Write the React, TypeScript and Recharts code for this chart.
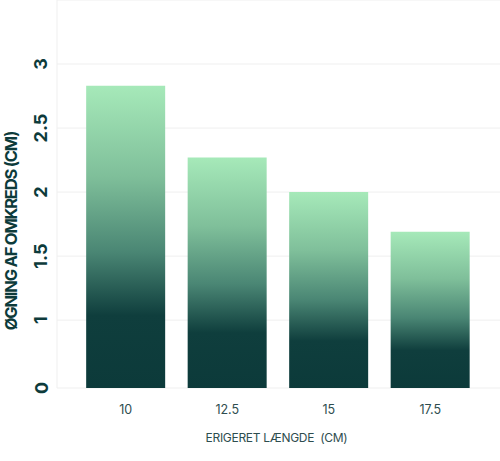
import { BarChart, Bar, XAxis, YAxis, CartesianGrid, Label } from "recharts";

const lengths = ["10", "12.5", "15", "17.5"];
const girthGain = [2.83, 2.27, 2.0, 1.69];
const yTicks = [0.47, 1, 1.5, 2, 2.5, 3];

const data = lengths.map((l, i) => ({ length: l, gain: girthGain[i] }));

const dark = "#0d3b3b";
const font = "Inter, 'Noto Sans', sans-serif";

const YTick = (props: any) => {
  const { y, payload } = props;
  const label = payload.value < 0.9 ? "0" : String(payload.value);
  return (
    <text
      x={41}
      y={y}
      transform={`rotate(-90 41 ${y})`}
      textAnchor="middle"
      dominantBaseline="central"
      fill={dark}
      fontFamily={font}
      fontWeight={700}
      fontSize={18}
    >
      {label}
    </text>
  );
};

const XTick = (props: any) => {
  const { x, y, payload } = props;
  return (
    <text
      x={x}
      y={y + 13}
      textAnchor="middle"
      dominantBaseline="central"
      fill="#2e4d4f"
      fontFamily={font}
      fontSize={12.5}
    >
      {payload.value}
    </text>
  );
};

export default function App() {
  return (
    <div style={{ position: "absolute", left: 0, top: 0, background: "#fff" }}>
      <BarChart
        width={500}
        height={461}
        data={data}
        margin={{ top: 0, right: 0, bottom: 43, left: 0 }}
        barCategoryGap="11%"
      >
        <defs>
          <linearGradient id="barGrad" x1="0" y1="0" x2="0" y2="1">
            <stop offset="0%" stopColor="#a6e9b9" />
            <stop offset="30%" stopColor="#7fbf9a" />
            <stop offset="55%" stopColor="#4a8674" />
            <stop offset="76%" stopColor="#0f3e3d" />
            <stop offset="100%" stopColor="#0c3a3a" />
          </linearGradient>
        </defs>
        <CartesianGrid vertical={false} stroke="#efefef" />
        <XAxis
          dataKey="length"
          height={30}
          axisLine={false}
          tickLine={false}
          padding={{ left: 18, right: 19 }}
          tick={<XTick />}
        >
          <Label
            content={(p: any) => {
              const vb = p.viewBox;
              return (
                <text
                  x={vb.x + vb.width / 2 - 2}
                  y={437}
                  textAnchor="middle"
                  dominantBaseline="central"
                  fill="#2e4d4f"
                  fontFamily={font}
                  fontSize={12}
                  letterSpacing={-0.3}
                  style={{ whiteSpace: "pre" }}
                >
                  {"ERIGERET LÆNGDE  (CM)"}
                </text>
              );
            }}
          />
        </XAxis>
        <YAxis
          type="number"
          width={57}
          domain={[0.47, 3.5]}
          ticks={yTicks}
          allowDataOverflow
          axisLine={{ stroke: "#efefef" }}
          tickLine={false}
          tick={<YTick />}
        >
          <Label
            content={() => (
              <text
                x={11}
                y={231}
                transform="rotate(-90 11 231)"
                textAnchor="middle"
                dominantBaseline="central"
                fill={dark}
                fontFamily={font}
                fontWeight={700}
                fontSize={16.5}
                letterSpacing={-1.2}
              >
                ØGNING AF OMKREDS (CM)
              </text>
            )}
          />
        </YAxis>
        <Bar dataKey="gain" fill="url(#barGrad)" isAnimationActive={false} />
      </BarChart>
    </div>
  );
}
